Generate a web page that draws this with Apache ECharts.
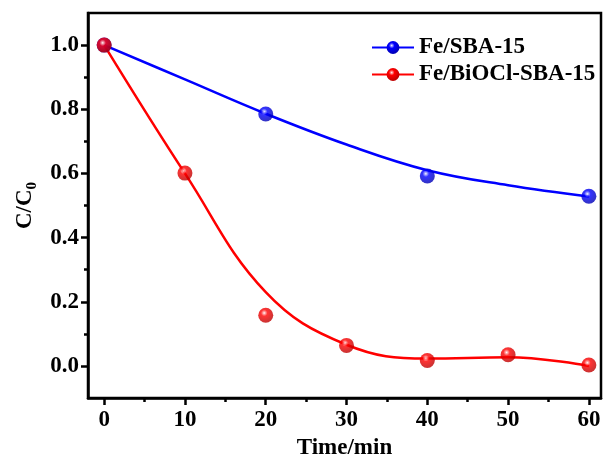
<!DOCTYPE html>
<html>
<head>
<meta charset="utf-8">
<script src="https://cdn.jsdelivr.net/npm/echarts@6/dist/echarts.min.js"></script>
<style>html,body{margin:0;padding:0;background:#fff}#c{width:606px;height:459px}</style>
</head>
<body>
<div id="c"></div>
<script>
// measured points
var blueX = [0, 20, 40, 60];
var blueY = [1.0, 0.785, 0.592, 0.529];
var redX = [0, 10, 20, 30, 40, 50, 60];
var redY = [1.0, 0.601, 0.158, 0.064, 0.017, 0.035, 0.003];
// fitted curves
var blueCurveX = [0, 10, 20, 30, 40, 50, 60];
var blueCurveY = [1.0, 0.893, 0.786, 0.69, 0.61, 0.563, 0.528];
var redCurveX = [0, 10, 20, 30, 40, 50, 60];
var redCurveY = [1.0, 0.60, 0.23, 0.066, 0.023, 0.027, 0.0];
var xMajor = [0, 10, 20, 30, 40, 50, 60];
var xMinor = [5, 15, 25, 35, 45, 55];
var yMajor = [0.0, 0.2, 0.4, 0.6, 0.8, 1.0];
var yMinor = [0.1, 0.3, 0.5, 0.7, 0.9];
var names = ['Fe/SBA-15', 'Fe/BiOCl-SBA-15'];

function zip(a, b) { return a.map(function (v, i) { return [v, b[i]]; }); }
function ball(c0, c1, c2) {
  return new echarts.graphic.RadialGradient(0.4, 0.35, 0.62, [
    { offset: 0, color: '#ffffff' },
    { offset: 0.12, color: c0 },
    { offset: 0.35, color: c1 },
    { offset: 1, color: c2 }
  ]);
}
var blueBall = ball('#9a9aff', '#0000ff', '#0000b8');
var redBall = ball('#ff9a9a', '#ff0000', '#c00000');
var font = 'Liberation Serif';
var lab = { fontFamily: font, fontWeight: 'bold', fontSize: 23, color: '#000' };

var chart = echarts.init(document.getElementById('c'));
chart.setOption({
  animation: false,
  grid: { left: 88, right: 5, top: 13, bottom: 61, outerBoundsMode: 'none', containLabel: false,
          show: true, borderColor: '#000', borderWidth: 2.5, backgroundColor: 'transparent' },
  legend: {
    left: 366, top: 31, orient: 'vertical', itemWidth: 42, itemHeight: 16, itemGap: 4,
    data: names,
    textStyle: { fontFamily: font, fontWeight: 'bold', fontSize: 23, color: '#000' }
  },
  xAxis: [{
    type: 'value', min: -2, max: 61.5,
    name: 'Time/min', nameLocation: 'middle', nameGap: 36,
    nameTextStyle: lab,
    axisLine: { show: true, onZero: false, lineStyle: { color: '#000', width: 2.5 } },
    axisTick: { show: true, inside: false, length: 7, customValues: xMajor, lineStyle: { color: '#000', width: 2.5 } },
    axisLabel: Object.assign({ margin: 11, customValues: xMajor }, lab),
    splitLine: { show: false }
  }, {
    type: 'value', min: -2, max: 61.5, position: 'bottom',
    axisLine: { show: false, onZero: false },
    axisTick: { show: true, length: 4, customValues: xMinor, lineStyle: { color: '#000', width: 2.5 } },
    axisLabel: { show: false },
    splitLine: { show: false }
  }],
  yAxis: [{
    type: 'value', min: -0.1, max: 1.1,
    name: '{a|C/C}{b|0}', nameLocation: 'middle', nameGap: 47,
    nameTextStyle: { fontFamily: font, fontWeight: 'bold', fontSize: 23, color: '#000',
      rich: { a: { fontFamily: font, fontWeight: 'bold', fontSize: 23, color: '#000' },
              b: { fontFamily: font, fontWeight: 'bold', fontSize: 15, color: '#000', padding: [13, 0, 0, 0] } } },
    axisLine: { show: true, onZero: false, lineStyle: { color: '#000', width: 2.5 } },
    axisTick: { show: true, inside: false, length: 7, customValues: yMajor, lineStyle: { color: '#000', width: 2.5 } },
    axisLabel: Object.assign({ margin: 9, customValues: yMajor, formatter: function (v) { return v.toFixed(1); } }, lab),
    splitLine: { show: false }
  }, {
    type: 'value', min: -0.1, max: 1.1, position: 'left',
    axisLine: { show: false, onZero: false },
    axisTick: { show: true, length: 4, customValues: yMinor, lineStyle: { color: '#000', width: 2.5 } },
    axisLabel: { show: false },
    splitLine: { show: false }
  }],
  series: [{
    name: names[0], type: 'line', smooth: 0.4, data: zip(blueCurveX, blueCurveY),
    symbol: 'circle', symbolSize: 15, showSymbol: false,
    lineStyle: { color: '#0000ff', width: 2.5 }, itemStyle: { color: blueBall }, z: 2
  }, {
    name: names[1], type: 'line', smooth: 0.4, data: zip(redCurveX, redCurveY),
    symbol: 'circle', symbolSize: 15, showSymbol: false,
    lineStyle: { color: '#ff0000', width: 2.5 }, itemStyle: { color: redBall }, z: 2
  }, {
    name: names[0], type: 'scatter', data: zip(blueX, blueY), symbol: 'circle', symbolSize: 15,
    itemStyle: { color: blueBall }, z: 3
  }, {
    name: names[1], type: 'scatter', data: zip(redX, redY), symbol: 'circle', symbolSize: 15,
    itemStyle: { color: redBall }, z: 3
  }]
});
</script>
</body>
</html>
